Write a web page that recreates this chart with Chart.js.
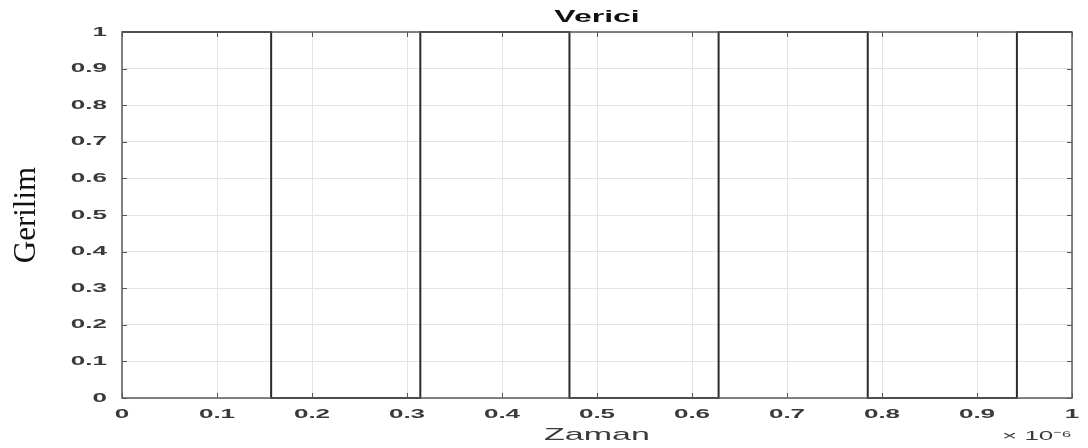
<!DOCTYPE html>
<html>
<head>
<meta charset="utf-8">
<script src="https://cdn.jsdelivr.net/npm/chart.js@4/dist/chart.umd.min.js"></script>
<style>
  html, body { margin: 0; padding: 0; background: #fff; }
  #wrap { width: 1088px; height: 448px; }
</style>
</head>
<body>
<div id="wrap"><canvas id="chart"></canvas></div>
<script>
// zaman (x 10^-6 s) - sinyalin degistigi anlar
const edges = [0, 0.157, 0.314, 0.471, 0.628, 0.785, 0.942, 1];
const levels = [1, 0, 1, 0, 1, 0, 1, 1];

const xTicks = [0, 0.1, 0.2, 0.3, 0.4, 0.5, 0.6, 0.7, 0.8, 0.9, 1];
const xTickLabels = ['0', '0.1', '0.2', '0.3', '0.4', '0.5', '0.6', '0.7', '0.8', '0.9', '1'];
const yTicks = [0, 0.1, 0.2, 0.3, 0.4, 0.5, 0.6, 0.7, 0.8, 0.9, 1];
const yTickLabels = ['0', '0.1', '0.2', '0.3', '0.4', '0.5', '0.6', '0.7', '0.8', '0.9', '1'];

const titleText = 'Verici';
const xTitle = 'Zaman';
const yTitle = 'Gerilim';
const xExponent = '\u00d7 10\u207b\u2076';

const textStretch = 2.0;
const labelColor = '#3a3a3a';

// yatay yazilari genislet (orijinal gorsel yatayda cekilmis)
const stretchText = {
    id: 'stretchText',
    beforeDraw(chart) {
        const ctx = chart.ctx;
        if (ctx._plainFill) return;
        ctx._plainFill = ctx.fillText;
        ctx.fillText = function (text, x, y) {
            const m = this.getTransform();
            if (m.b !== 0 || m.c !== 0) return this._plainFill(text, x, y);
            this.save();
            this.translate(x, y);
            this.scale(textStretch, 1);
            this._plainFill(text, 0, 0);
            this.restore();
        };
    }
};

// cerceve, ice dogru tik cizgileri, baslik ve carpan
const frame = {
    id: 'frame',
    afterDraw(chart) {
        const { ctx, chartArea: a, scales } = chart;
        const len = 5;
        ctx.save();
        ctx.strokeStyle = '#555';
        ctx.lineWidth = 1;
        ctx.beginPath();
        xTicks.forEach(v => {
            const px = Math.round(scales.x.getPixelForValue(v)) + 0.5;
            ctx.moveTo(px, a.bottom); ctx.lineTo(px, a.bottom - len);
            ctx.moveTo(px, a.top); ctx.lineTo(px, a.top + len);
        });
        yTicks.forEach(v => {
            const py = Math.round(scales.y.getPixelForValue(v)) + 0.5;
            ctx.moveTo(a.left, py); ctx.lineTo(a.left + len, py);
            ctx.moveTo(a.right, py); ctx.lineTo(a.right - len, py);
        });
        ctx.stroke();
        ctx.lineWidth = 1.5;
        ctx.strokeStyle = '#5a5a5a';
        ctx.strokeRect(a.left, a.top, a.right - a.left, a.bottom - a.top);

        ctx.fillStyle = '#111';
        ctx.font = 'bold 16px "Liberation Sans", Arial, sans-serif';
        ctx.textAlign = 'center';
        ctx.textBaseline = 'middle';
        ctx.fillText(titleText, (a.left + a.right) / 2, 18);

        ctx.fillStyle = labelColor;
        ctx.font = '13px "Liberation Sans", Arial, sans-serif';
        ctx.textAlign = 'right';
        ctx.fillText(xExponent, a.right, 436);
        ctx.restore();
    }
};

const points = edges.map((t, i) => ({ x: t, y: levels[i] }));

new Chart(document.getElementById('chart'), {
    type: 'line',
    data: {
        datasets: [{
            label: titleText,
            data: points,
            stepped: true,
            borderColor: '#2b2b2b',
            borderWidth: 2,
            pointRadius: 0,
            fill: false,
            clip: false
        }]
    },
    options: {
        responsive: true,
        maintainAspectRatio: false,
        animation: false,
        layout: { padding: { top: 32, right: 16, left: 0, bottom: 0 } },
        plugins: {
            legend: { display: false },
            title: { display: false },
            tooltip: { enabled: false }
        },
        scales: {
            x: {
                type: 'linear',
                min: 0,
                max: 1,
                afterBuildTicks: s => { s.ticks = xTicks.map(v => ({ value: v })); },
                afterFit: s => { s.height = 50; },
                grid: { color: '#e4e4e4', lineWidth: 1, drawTicks: false },
                border: { display: false },
                ticks: {
                    padding: 9,
                    maxRotation: 0,
                    autoSkip: false,
                    color: labelColor,
                    font: { family: '"Liberation Sans", Arial, sans-serif', size: 13, weight: 'bold' },
                    callback: (v, i) => xTickLabels[i]
                },
                title: {
                    display: true,
                    text: xTitle,
                    color: labelColor,
                    padding: { top: 0, bottom: 2 },
                    font: { family: '"Liberation Sans", Arial, sans-serif', size: 17 }
                }
            },
            y: {
                type: 'linear',
                min: 0,
                max: 1,
                afterBuildTicks: s => { s.ticks = yTicks.map(v => ({ value: v })); },
                afterFit: s => { s.width = 122; },
                grid: { color: '#e4e4e4', lineWidth: 1, drawTicks: false },
                border: { display: false },
                ticks: {
                    padding: 15,
                    autoSkip: false,
                    color: labelColor,
                    font: { family: '"Liberation Sans", Arial, sans-serif', size: 13, weight: 'bold' },
                    callback: (v, i) => yTickLabels[i]
                },
                title: {
                    display: true,
                    text: yTitle,
                    color: '#111',
                    padding: { top: 8, bottom: 0 },
                    font: { family: '"Liberation Serif", "Times New Roman", serif', size: 31 }
                }
            }
        }
    },
    plugins: [stretchText, frame]
});
</script>
</body>
</html>
